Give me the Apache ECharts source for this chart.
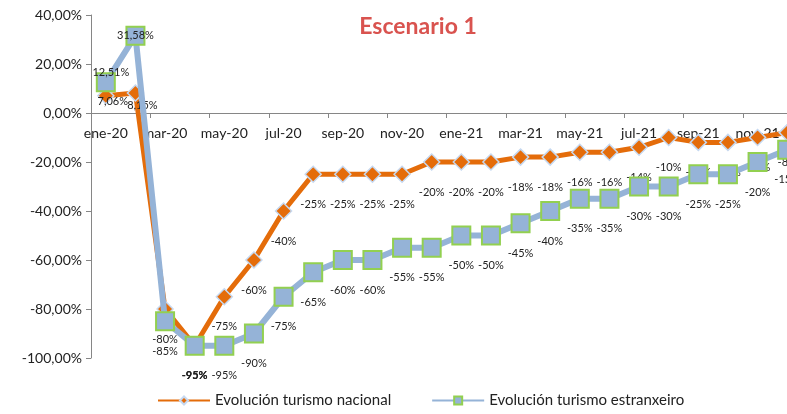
<!DOCTYPE html>
<html><head><meta charset="utf-8">
<script src="https://cdn.jsdelivr.net/npm/echarts@6/dist/echarts.min.js"></script>
<style>html,body{margin:0;padding:0;background:#fff;overflow:hidden;width:787px;height:414px}#c{width:802px;height:414px}</style>
</head><body><div id="c"></div>
<script>
const categories = ['ene-20','feb-20','mar-20','abr-20','may-20','jun-20','jul-20','ago-20','sep-20','oct-20','nov-20','dic-20',
  'ene-21','feb-21','mar-21','abr-21','may-21','jun-21','jul-21','ago-21','sep-21','oct-21','nov-21','dic-21'];
const nacional = [7.06, 8.15, -80, -95, -75, -60, -40, -25, -25, -25, -25, -20, -20, -20, -18, -18, -16, -16, -14, -10, -12, -12, -10, -8];
const estranxeiro = [12.51, 31.58, -85, -95, -95, -90, -75, -65, -60, -60, -55, -55, -50, -50, -45, -40, -35, -35, -30, -30, -25, -25, -20, -15];

const FONT = 'Lato';
function fmtLabel(v) {
  return Number.isInteger(v) ? v + '%' : v.toFixed(2).replace('.', ',') + '%';
}
const nacOffsets = {0: [7, 6], 1: [7, 12]};
const estOffsets = {0: [5, -10], 1: [0, 0]};
function build(arr, offs, boldIdx) {
  return arr.map((v, i) => {
    const item = {value: v};
    if (offs[i]) item.label = {offset: offs[i]};
    if (boldIdx === i) item.label = Object.assign(item.label || {}, {fontWeight: 'bold'});
    return item;
  });
}

const chart = echarts.init(document.getElementById('c'));
chart.setOption({
  animation: false,
  textStyle: {fontFamily: FONT},
  title: {
    text: 'Escenario 1', left: 413, top: 10, textAlign: 'center',
    textStyle: {fontFamily: FONT, fontSize: 23, fontWeight: 'bold', color: '#D9534F'}
  },
  legend: {
    left: 152, bottom: 1, itemGap: 40, itemWidth: 52, itemHeight: 10,
    textStyle: {fontFamily: FONT, fontSize: 15, color: '#222'},
    data: ['Evolución turismo nacional', 'Evolución turismo estranxeiro']
  },
  grid: {left: 91, right: 0, top: 15, bottom: 56, containLabel: false},
  xAxis: {
    type: 'category', data: categories, boundaryGap: true,
    axisLine: {onZero: false, lineStyle: {color: '#868686', width: 1}},
    offset: -245,
    axisTick: {show: true, interval: 1, length: 5, lineStyle: {color: '#868686'}},
    axisLabel: {interval: 1, margin: 13, fontFamily: FONT, fontSize: 14, color: '#222'},
    splitLine: {show: false}
  },
  yAxis: {
    type: 'value', min: -100, max: 40, interval: 20,
    axisLine: {show: true, lineStyle: {color: '#868686', width: 1}},
    axisTick: {show: true, length: 5, lineStyle: {color: '#868686'}},
    axisLabel: {margin: 9, fontFamily: FONT, fontSize: 14, color: '#222',
      formatter: v => v.toFixed(2).replace('.', ',') + '%'},
    splitLine: {show: false}
  },
  series: [
    {
      name: 'Evolución turismo nacional', type: 'line',
      data: build(nacional, nacOffsets, 3),
      symbol: 'diamond', symbolSize: 16,
      lineStyle: {color: '#E46C0A', width: 5},
      itemStyle: {color: '#E46C0A', borderColor: '#C6D9F1', borderWidth: 1.5},
      label: {show: true, position: 'inside', offset: [0, 30], formatter: p => fmtLabel(p.value),
        fontFamily: FONT, fontSize: 11, color: '#222'},
      z: 2
    },
    {
      name: 'Evolución turismo estranxeiro', type: 'line',
      data: build(estranxeiro, estOffsets, 3),
      symbol: 'rect', symbolSize: 18,
      lineStyle: {color: '#95B3D7', width: 6},
      itemStyle: {color: '#95B3D7', borderColor: '#92D050', borderWidth: 2},
      label: {show: true, position: 'inside', offset: [0, 30], formatter: p => fmtLabel(p.value),
        fontFamily: FONT, fontSize: 11, color: '#222'},
      z: 3
    }
  ]
});
</script></body></html>
